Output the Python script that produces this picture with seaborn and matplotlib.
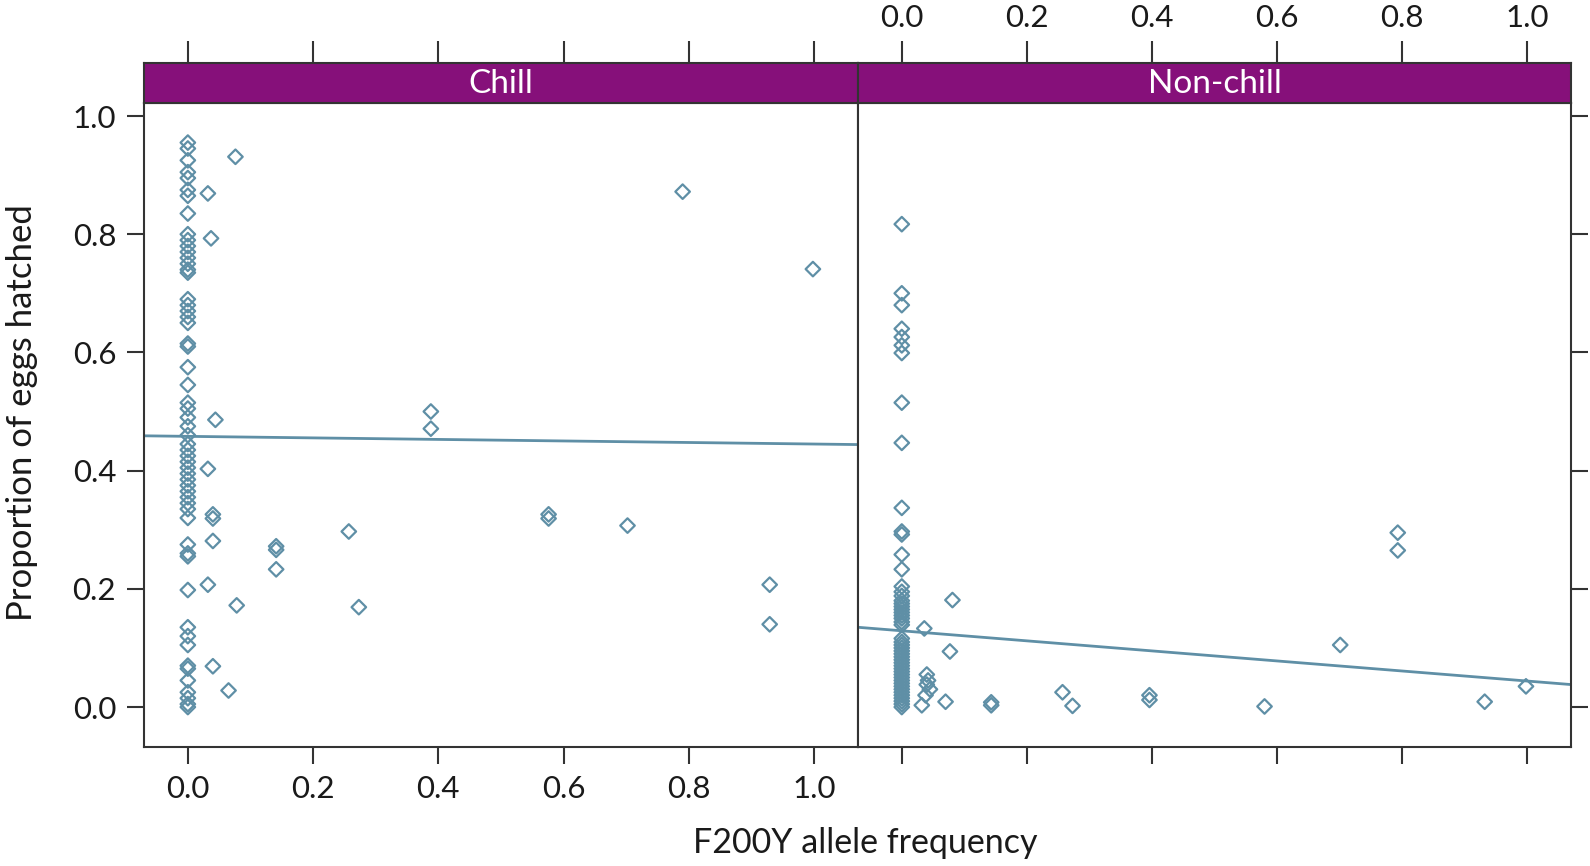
import numpy as np
import pandas as pd
import matplotlib
matplotlib.use("Agg")
import matplotlib.pyplot as plt
import seaborn as sns

# Chill panel: points at allele frequency 0
chill_y0 = [0.955, 0.945, 0.925, 0.905, 0.895, 0.875, 0.865, 0.835, 0.80, 0.79,
            0.78, 0.77, 0.76, 0.75, 0.74, 0.735, 0.69, 0.68, 0.67, 0.66, 0.65,
            0.615, 0.61, 0.575, 0.545, 0.515, 0.505, 0.49, 0.475, 0.46, 0.445,
            0.435, 0.425, 0.415, 0.405, 0.395, 0.385, 0.375, 0.365, 0.355,
            0.345, 0.335, 0.32, 0.275, 0.26, 0.255, 0.198, 0.135, 0.12, 0.105,
            0.07, 0.065, 0.045, 0.025, 0.015, 0.005, 0.0]
# Chill panel: remaining points
chill_x1 = [0.076, 0.032, 0.037, 0.044, 0.032, 0.040, 0.040, 0.040, 0.032, 0.078,
            0.040, 0.065, 0.141, 0.141, 0.141, 0.257, 0.273, 0.388, 0.388, 0.576,
            0.576, 0.702, 0.790, 0.998, 0.929, 0.929]
chill_y1 = [0.931, 0.869, 0.793, 0.486, 0.403, 0.326, 0.319, 0.281, 0.207, 0.172,
            0.069, 0.028, 0.272, 0.266, 0.233, 0.297, 0.169, 0.500, 0.471, 0.326,
            0.319, 0.307, 0.872, 0.741, 0.207, 0.140]

# Non-chill panel: points at allele frequency 0
nonchill_y0 = [0.817, 0.70, 0.68, 0.64, 0.626, 0.612, 0.599, 0.515, 0.447, 0.337,
               0.297, 0.292, 0.258, 0.233, 0.204, 0.195, 0.188, 0.18, 0.175, 0.17,
               0.165, 0.16, 0.155, 0.15, 0.144, 0.139, 0.116, 0.11, 0.105, 0.10,
               0.095, 0.09, 0.085, 0.08, 0.075, 0.07, 0.065, 0.06, 0.055, 0.05,
               0.045, 0.04, 0.035, 0.03, 0.025, 0.02, 0.015, 0.01, 0.005, 0.0]
# Non-chill panel: remaining points
nonchill_x1 = [0.081, 0.036, 0.077, 0.040, 0.042, 0.040, 0.045, 0.038, 0.032, 0.070,
               0.143, 0.143, 0.257, 0.273, 0.396, 0.396, 0.580, 0.701, 0.793, 0.793,
               0.932, 0.998]
nonchill_y1 = [0.181, 0.133, 0.094, 0.055, 0.045, 0.038, 0.030, 0.020, 0.003, 0.009,
               0.008, 0.003, 0.025, 0.002, 0.020, 0.012, 0.001, 0.105, 0.295, 0.265,
               0.009, 0.035]

# fitted lines (intercept, slope)
chill_fit = (0.458, -0.013)
nonchill_fit = (0.129, -0.085)

panels = ["Chill", "Non-chill"]
xticks = [0.0, 0.2, 0.4, 0.6, 0.8, 1.0]
yticks = [0.0, 0.2, 0.4, 0.6, 0.8, 1.0]

df = pd.DataFrame({
    "freq": [0.0] * len(chill_y0) + chill_x1 + [0.0] * len(nonchill_y0) + nonchill_x1,
    "hatched": chill_y0 + chill_y1 + nonchill_y0 + nonchill_y1,
    "treatment": ["Chill"] * (len(chill_y0) + len(chill_x1))
                 + ["Non-chill"] * (len(nonchill_y0) + len(nonchill_x1)),
})
fits = {"Chill": chill_fit, "Non-chill": nonchill_fit}

sns.set_style("white")
plt.rcParams["font.family"] = ["Lato", "DejaVu Sans"]

point_col = "#5f8fa6"
strip_col = "#86107a"
frame_col = "#333333"
text_col = "#1a1a1a"

fig = plt.figure(figsize=(15.9, 8.66), dpi=100)
W, H = 1590, 866
left0, mid, right1 = 144, 858, 1571
top_strip, bot_strip, bot_panel = 63, 103, 747

for i, name in enumerate(panels):
    x0 = [left0, mid][i]
    x1 = [mid, right1][i]
    ax = fig.add_axes([x0 / W, 1 - bot_panel / H, (x1 - x0) / W, (bot_panel - bot_strip) / H])
    sub = df[df["treatment"] == name]
    sns.scatterplot(data=sub, x="freq", y="hatched", ax=ax, marker="D", s=55,
                    facecolor="none", edgecolor=point_col, linewidth=1.6, legend=False)
    b, m = fits[name]
    ax.axline((0, b), slope=m, color=point_col, lw=2)
    ax.set_xlim(-0.07, 1.07)
    ax.set_ylim(-0.0676, 1.022)
    ax.set_xlabel("")
    ax.set_ylabel("")
    ax.set_xticks(xticks)
    ax.set_yticks(yticks)
    for s in ax.spines.values():
        s.set_color(frame_col)
        s.set_linewidth(1.5)
    ax.tick_params(axis="both", direction="out", length=12, width=1.5,
                   color=frame_col, labelsize=22.5, labelcolor=text_col, pad=8)
    if i == 0:
        ax.tick_params(axis="y", left=True, right=False, labelleft=True)
        ax.tick_params(axis="x", bottom=True, labelbottom=True)
        ax.set_yticklabels([f"{v:.1f}" for v in yticks])
        ax.set_xticklabels([f"{v:.1f}" for v in xticks])
    else:
        ax.tick_params(axis="y", left=False, right=True, labelleft=False, labelright=False)
        ax.tick_params(axis="x", bottom=True, labelbottom=False)

    # strip with the panel name and top ticks
    sax = fig.add_axes([x0 / W, 1 - bot_strip / H, (x1 - x0) / W, (bot_strip - top_strip) / H])
    sax.set_facecolor(strip_col)
    sax.set_xlim(-0.07, 1.07)
    sax.set_ylim(0, 1)
    sax.set_yticks([])
    sax.set_xticks(xticks)
    sax.xaxis.set_ticks_position("top")
    sax.tick_params(axis="x", direction="out", length=16, width=1.5, color=frame_col,
                    labelsize=22.5, labelcolor=text_col, pad=6,
                    labeltop=(i == 1), labelbottom=False, bottom=False)
    if i == 1:
        sax.set_xticklabels([f"{v:.1f}" for v in xticks])
    for s in sax.spines.values():
        s.set_color(frame_col)
        s.set_linewidth(1.5)
    sax.text(0.5, 0.47, name, transform=sax.transAxes, ha="center", va="center",
             color="white", fontsize=24)

fig.text(22 / W, 1 - 413 / H, "Proportion of eggs hatched", rotation=90,
         ha="center", va="center", fontsize=25, color=text_col)
fig.text(865 / W, 1 - 843 / H, "F200Y allele frequency", ha="center", va="center",
         fontsize=24.5, color=text_col)

fig.savefig("out.png", dpi=100)
